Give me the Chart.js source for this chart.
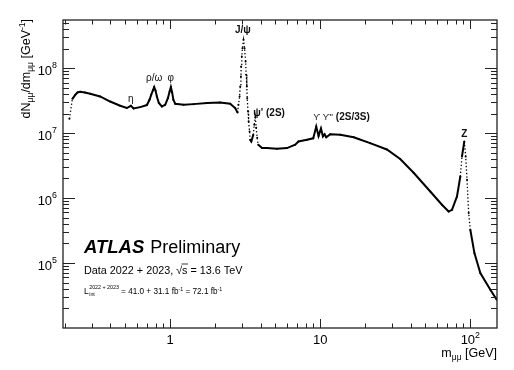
<!DOCTYPE html>
<html>
<head>
<meta charset="utf-8">
<script src="https://cdn.jsdelivr.net/npm/chart.js@4.4.1/dist/chart.umd.min.js"></script>
<style>
  html, body { margin: 0; padding: 0; background: #fff; }
  #wrap { width: 514px; height: 370px; }
</style>
</head>
<body>
<div id="wrap"><canvas id="c" width="514" height="370"></canvas></div>
<script>
// dimuon invariant mass spectrum
const massGeV = [
  0.213, 0.223, 0.233, 0.241, 0.251, 0.27, 0.293, 0.341, 0.398, 0.464,
  0.514, 0.547, 0.570, 0.631, 0.699, 0.728, 0.747, 0.766, 0.782, 0.798,
  0.815, 0.840, 0.880, 0.926, 0.965, 0.991, 1.01, 1.03, 1.05, 1.08,
  1.23, 1.43, 1.76, 2.15, 2.51, 2.71, 2.81, 2.85, 2.90, 2.93,
  2.96, 2.97, 3.00, 3.03, 3.08, 3.13, 3.18, 3.21, 3.24, 3.26,
  3.30, 3.33, 3.38, 3.41, 3.47, 3.58, 3.63, 3.69, 3.74, 3.80,
  3.86, 4.10, 4.41, 5.14, 6.00, 6.81, 7.16, 8.15, 8.98, 9.40,
  9.74, 10.11, 10.42, 10.68, 10.96, 11.66, 13.6, 16.7, 18.0, 21.5,
  27.8, 34.1, 41.9, 54.1, 64.7, 71.7, 75.5, 81.5, 85.8, 88.0,
  91.2, 93.1, 95.1, 97.5, 100.0, 106.5, 116.6, 136.0, 150.0
];
const countsPerGeV = [
  1.66e7, 3.37e7, 3.88e7, 4.22e7, 4.32e7, 4.2e7, 4.03e7, 3.66e7, 3.06e7, 2.63e7,
  2.43e7, 2.63e7, 2.39e7, 2.51e7, 2.70e7, 3.25e7, 3.88e7, 4.52e7, 5.11e7, 4.52e7,
  3.66e7, 2.90e7, 2.57e7, 2.72e7, 3.45e7, 4.37e7, 5.11e7, 4.22e7, 3.25e7, 2.83e7,
  2.72e7, 2.79e7, 2.90e7, 2.96e7, 2.83e7, 2.43e7, 2.07e7, 2.72e7, 3.66e7, 5.21e7,
  7.43e7, 1.06e8, 1.51e8, 2.03e8, 2.72e8, 2.03e8, 1.26e8, 7.89e7, 5.21e7, 3.45e7,
  2.15e7, 1.51e7, 1.06e7, 7.89e6, 7.43e6, 9.42e6, 1.34e7, 1.75e7, 1.21e7, 8.49e6,
  6.61e6, 5.87e6, 5.87e6, 5.73e6, 5.87e6, 6.61e6, 7.43e6, 7.89e6, 8.3e6, 1.26e7,
  9.0e6, 1.18e7, 8.9e6, 9.6e6, 8.6e6, 9.6e6, 9.4e6, 8.6e6, 8.1e6, 7.0e6,
  5.6e6, 4.0e6, 2.45e6, 1.26e6, 7.9e5, 6.2e5, 6.6e5, 1.06e6, 2.15e6, 4.37e6,
  7.43e6, 4.37e6, 1.91e6, 5.9e5, 3.25e5, 1.42e5, 7.0e4, 3.88e4, 2.72e4
];

// axis ranges and labelled ticks
const xRange = [0.193, 150.6];
const yRange = [1.0e4, 5.5e8];
const xLabelTicks = [1, 10, 100];
const xLabelText = ['1', '10', '10^2'];
const yLabelTicks = [1e5, 1e6, 1e7, 1e8];
const yLabelText = ['10^5', '10^6', '10^7', '10^8'];

// resonance names
const peakNames = ['η', 'ρ/ω', 'φ', 'J/ψ', 'ψ\' (2S)', 'Z'];
const peakMass = [0.547, 0.782, 1.01, 3.05, 3.58, 91.2];
const peakCount = [3.45e7, 7.27e7, 7.27e7, 3.88e8, 2.05e7, 9.75e6];

const FONT = '"Liberation Sans", Arial, Helvetica, sans-serif';

function setFont(ctx, size, bold, italic) {
  ctx.font = (italic ? 'italic ' : '') + (bold ? 'bold ' : '') + size + 'px ' + FONT;
}

// draws a list of pieces {t, size, bold, italic, dy} on one baseline
function richText(ctx, parts, x, y, align) {
  let w = 0;
  parts.forEach(p => { setFont(ctx, p.size, p.bold, p.italic); w += ctx.measureText(p.t).width; });
  let cx = align === 'right' ? x - w : (align === 'center' ? x - w / 2 : x);
  ctx.textAlign = 'left';
  ctx.textBaseline = 'alphabetic';
  parts.forEach(p => {
    setFont(ctx, p.size, p.bold, p.italic);
    ctx.fillText(p.t, cx, y + (p.dy || 0));
    cx += ctx.measureText(p.t).width;
  });
  return cx;
}

function powerLabel(txt, size) {
  const bits = txt.split('^');
  const parts = [{ t: bits[0], size: size }];
  if (bits[1]) parts.push({ t: bits[1], size: size * 0.68, dy: -size * 0.48 });
  return parts;
}

// all ticks 1..9 x 10^n inside a range
function logTicks(lo, hi) {
  const out = [];
  for (let e = Math.floor(Math.log10(lo)); e <= Math.ceil(Math.log10(hi)); e++) {
    for (let k = 1; k <= 9; k++) {
      const v = k * Math.pow(10, e);
      if (v > lo * 1.001 && v < hi * 0.999) out.push({ v: v, major: k === 1 });
    }
  }
  return out;
}

const atlasFrame = {
  id: 'atlasFrame',
  afterDraw(chart) {
    const ctx = chart.ctx;
    const a = chart.chartArea;
    const xs = chart.scales.x, ys = chart.scales.y;
    ctx.save();
    ctx.fillStyle = '#000';
    ctx.strokeStyle = '#222';

    // frame
    ctx.lineWidth = 1.3;
    ctx.strokeRect(a.left, a.top, a.right - a.left, a.bottom - a.top);

    // inward ticks on all four sides
    ctx.lineWidth = 1;
    ctx.beginPath();
    logTicks(xRange[0], xRange[1]).forEach(t => {
      const px = Math.round(xs.getPixelForValue(t.v)) + 0.5;
      const len = t.major ? 9 : 4.5;
      ctx.moveTo(px, a.bottom); ctx.lineTo(px, a.bottom - len);
      ctx.moveTo(px, a.top); ctx.lineTo(px, a.top + len);
    });
    logTicks(yRange[0], yRange[1]).forEach(t => {
      const py = Math.round(ys.getPixelForValue(t.v)) + 0.5;
      const len = t.major ? 12 : 6;
      ctx.moveTo(a.left, py); ctx.lineTo(a.left + len, py);
      ctx.moveTo(a.right, py); ctx.lineTo(a.right - len, py);
    });
    ctx.stroke();

    // tick labels
    xLabelTicks.forEach((v, i) => {
      richText(ctx, powerLabel(xLabelText[i], 13), xs.getPixelForValue(v), a.bottom + 16, 'center');
    });
    yLabelTicks.forEach((v, i) => {
      richText(ctx, powerLabel(yLabelText[i], 13), a.left - 6, ys.getPixelForValue(v) + 6.5, 'right');
    });

    // x title
    richText(ctx, [
      { t: 'm', size: 12.5 }, { t: 'μμ', size: 8.5, dy: 3 }, { t: ' [GeV]', size: 12.5 }
    ], a.right, a.bottom + 28.5, 'right');

    // y title (rotated)
    ctx.save();
    ctx.translate(29.5, a.top - 1);
    ctx.rotate(-Math.PI / 2);
    richText(ctx, [
      { t: 'dN', size: 12.5 }, { t: 'μμ', size: 8.5, dy: 3 }, { t: '/dm', size: 12.5 },
      { t: 'μμ', size: 8.5, dy: 3 }, { t: ' [GeV', size: 12.5 }, { t: '-1', size: 8.5, dy: -5 },
      { t: ']', size: 12.5 }
    ], 0, 0, 'right');
    ctx.restore();

    // resonance labels
    ctx.fillStyle = '#111';
    peakNames.forEach((name, i) => {
      const px = xs.getPixelForValue(peakMass[i]);
      const py = ys.getPixelForValue(peakCount[i]) + 3.5;
      const bold = name !== 'η' && name !== 'ρ/ω' && name !== 'φ';
      const align = name.indexOf('(2S)') >= 0 ? 'left' : 'center';
      richText(ctx, [{ t: name, size: 10, bold: bold }], px, py, align);
    });
    // upsilon family label
    const ux = xs.getPixelForValue(8.98), uy = ys.getPixelForValue(1.78e7) + 3.5;
    richText(ctx, [
      { t: 'ϒ ', size: 9 }, { t: 'ϒ\'\'', size: 9 }, { t: ' (2S/3S)', size: 10, bold: true }
    ], ux, uy, 'left');

    // ATLAS label block
    ctx.fillStyle = '#000';
    const lx = a.left + 21;
    const ax = richText(ctx, [{ t: 'ATLAS', size: 18.5, bold: true, italic: true }], lx, 253, 'left');
    richText(ctx, [{ t: 'Preliminary', size: 18 }], ax + 6, 253, 'left');

    let cx = richText(ctx, [{ t: 'Data 2022 + 2023, ', size: 10.8 }], lx, 274, 'left');
    setFont(ctx, 10.8);
    const rootW = ctx.measureText('√').width;
    const sW = ctx.measureText('s').width;
    richText(ctx, [{ t: '√s', size: 10.8 }], cx, 274, 'left');
    ctx.lineWidth = 0.9;
    ctx.beginPath();
    ctx.moveTo(cx + rootW - 0.5, 274 - 10);
    ctx.lineTo(cx + rootW + sW + 0.5, 274 - 10);
    ctx.stroke();
    richText(ctx, [{ t: ' = 13.6 TeV', size: 10.8 }], cx + rootW + sW, 274, 'left');

    cx = richText(ctx, [{ t: 'L', size: 8.5 }], lx, 294, 'left');
    const supEnd = richText(ctx, [{ t: '2022 + 2023', size: 5.3 }], cx + 0.5, 294 - 5.5, 'left');
    richText(ctx, [{ t: 'int', size: 5.3 }], cx + 0.5, 294 + 2, 'left');
    richText(ctx, [
      { t: ' = 41.0 + 31.1 fb', size: 8.2 }, { t: '-1', size: 5.3, dy: -3.5 },
      { t: ' = 72.1 fb', size: 8.2 }, { t: '-1', size: 5.3, dy: -3.5 }
    ], supEnd, 294, 'left');

    ctx.restore();
  }
};

// steep segments are drawn dotted, like the separated bins of the narrow peaks
function isSteep(c) {
  const dx = Math.abs(c.p1.x - c.p0.x), dy = Math.abs(c.p1.y - c.p0.y);
  return dy > 6 && dy > 6.5 * dx;
}

new Chart(document.getElementById('c').getContext('2d'), {
  type: 'scatter',
  data: {
    datasets: [{
      data: massGeV.map((m, i) => ({ x: m, y: countsPerGeV[i] })),
      showLine: true,
      borderColor: '#000',
      backgroundColor: '#000',
      borderWidth: 2,
      pointRadius: 1,
      pointBorderWidth: 0,
      segment: {
        borderWidth: c => isSteep(c) ? 1.3 : 2,
        borderDash: c => isSteep(c) ? [1.3, 2.2] : undefined
      }
    }]
  },
  options: {
    responsive: false,
    animation: false,
    devicePixelRatio: 1,
    layout: { padding: { left: 63, right: 17, top: 20, bottom: 42 } },
    plugins: { legend: { display: false }, tooltip: { enabled: false } },
    scales: {
      x: { type: 'logarithmic', min: xRange[0], max: xRange[1], display: false },
      y: { type: 'logarithmic', min: yRange[0], max: yRange[1], display: false }
    }
  },
  plugins: [atlasFrame]
});
</script>
</body>
</html>
